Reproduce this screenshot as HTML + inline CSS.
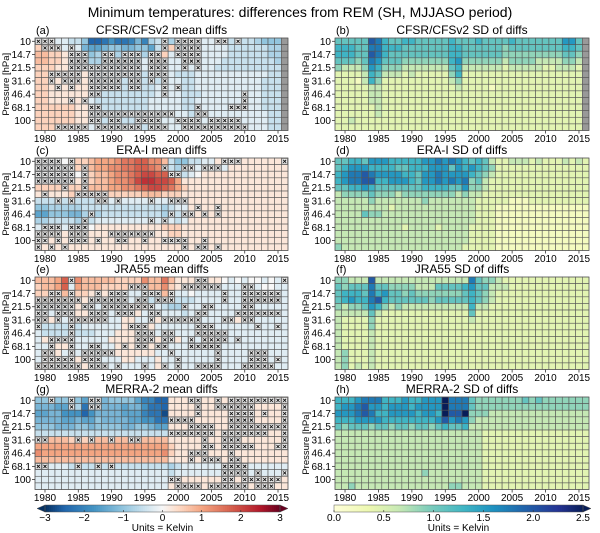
<!DOCTYPE html>
<html><head><meta charset="utf-8"><style>
html,body{margin:0;padding:0;background:#fff;}
svg{display:block;font-family:"Liberation Sans",sans-serif;}
</style></head><body>
<svg id="fig" width="600" height="533" viewBox="0 0 600 533" xmlns="http://www.w3.org/2000/svg">
<text x="300" y="17" text-anchor="middle" font-size="14">Minimum temperatures: differences from REM (SH, MJJASO period)</text>
</svg>
<script>
// ---- data ----
const years = Array.from({length:38},(_,i)=>1979+i);
const levelLabels = ["10","","14.7","","21.5","","31.6","","46.4","","68.1","","100",""];
const xTickYears = [1980,1985,1990,1995,2000,2005,2010,2015];
const meanTicks = [-3,-2,-1,0,1,2,3];
const sdTicks = ["0.0","0.5","1.0","1.5","2.0","2.5"];
// mean codes: a..l = -0.25..-3, A..L = +0.25..+3, 0 = 0, _ = missing
const meanA = [
"aaaaabbdjjigiihehcbacbaaaaaabbbbbcddd_",
"BBBAaaaeffeddeeddfbaBbbaaaaaabbbbbbccd_",
"CCBBAabcdcdccccdcbaBaaaaaaaaabbbbbbcc_",
"CCBBAaabcccbbcccaaAaaaaaaaaabbbbbbbbc_",
"BBBAAaabbbbbbbbbaaaaaaaaaaabbbbbbbbb_",
"BBAAAAAAabbbbbbbbbaaabbbaaaaaaaaaaabb_",
"BBAAAAAAabbbbbbbbbbaaabbaaaaaaaaaabbb_",
"BBAAAAAAaabbbbbbbbaaaabbaaaaaaaaaabbb_",
"BBAAAAAAabbbbbbbbbaaaabbbaaaaaaaaabbb_",
"BBAAAAAAabbbbbbbbaaaaabbaaaaaaaaaabbb_",
"BBBBBBAAabbbbbbbbaaaaabbaaaaaaaaaabbb_",
"BBBBBBAAabbbbbbbbaaaaaabaaaaaaaaaaabb_",
"BBBBBBAAaabbbbbbbaaaaaaaaaaaaaaaaaabb_",
"BBBBBBAAaabbbbbbbaaaaaaaaaaaaaaaaaabb_"];
const meanC = [
"00a00ABBCDDDEFFGGEECbddbbaaAAAAAAAAAAA",
"0a00a0BBCDDEEFFGGFECbcaaaaaaaAAAAAAAAA",
"aaaa0b0BBCCDEEFGHHGGFcba0AAAAAAAAAAAAA",
"aaaaa0ABBCCDEEFHIIHHGDAAAAAAAAAAAAAAAA",
"BBBBBBBBCCCDDEEFGHHGFDBAAAAAAAAAAAAAAA",
"AAAAABAABBBBBBBBCCCBBBAAAAAAAAAAAAAAAA",
"bbbbbbbbbaaaaaaaaaaacbaAAAAAAAAAAAAAAA",
"ddcccccbbbbbbbbbbbbcbaaAAAAAAAAAAAAAAA",
"ffdddeecccbbbbbbbbbccbaAAAAAAAAAAAAAAA",
"ccbbbbcbbaaaaaaaaaaaabaAAAAAAAAAAAAAAA",
"aaaaaaaa0AAAAAAAAAABBBAAAAAAAAAAAAAAAA",
"AAAAAAAAAAAAAAAAAAAABBAAAAAAAAAAAAAAAA",
"AAAAAAAAAAAAAAAAAAAAAAAAAAAAAAAAAAAAAA",
"AAAAAAAAAAAAAAAAAAAAAAAAAAAAAAAAAAAAAA"];
const meanE = [
"CCCDGaECCCCCBBBBECCFCAAA0AAA0a0a00a0aa",
"BCCDGaDCCCBBBBBBDCCEBAAAAAa0aaa0aa00aa",
"BBBBCaBBAAAA0aaaaaaCBaa0aaaaaaaaaaaaaa",
"AAAAAAAAaa0aaaaabbbaabbbaaaaaaaaaaaaaa",
"aaaaaaAAaa0aaaAAAaabccbaaaaaaaaaaaaaaa",
"aaaaaaAAaaaaaaaAaaaaaabaaaaaaaaaaaaaaa",
"aAAaaAAAAAaaaAAaaaAaaaaAaaaaaaAaaaaaaa",
"abbbbbbaaaaaaAAaAAaaaaaaaaaaaaaaaaaaaa",
"abbbbbbbbaaaAAAAaAaaaaaaAaaaaaaaaaaaaa",
"aAAaaaaaaaaAAAAAAAAaaAaaaAAaaaaaaaaaaa",
"aaaAAaaaaaaaAAAaAAaaaaaaaaaaaaaaaaaaaa",
"aAAAaaaaaaaAAAAAAAaaaaaaaaaaaaaaaaaaaa",
"aAAAaaAAAaaaaAAaaaAaaaaaaaaaaaaaaaaaaa",
"AAAaaaAAaaaaaaaaaaAaaaaaaaaaaaaaaaaaaa"];
const meanG = [
"ddcddfdfceeddddfhhjjAAAAAAAAAAAAAAAAAA",
"eeeffgcigeeeefeegiijAAAAAAAAAAAAAAAAAA",
"ffeegggjgeeeefffhiikAAAAAAAAAAAAAAAAAA",
"eeeeffeffdeeeeffggiiAAAAAAAAAAAAAAAAAA",
"dddeeeddeddddeeddeffAAAAAAAAAAAAAAAAAA",
"bbbbbbbbbbbbbbbbbbbbAAAAAAAAAAAAAAAAAA",
"BBCCCBCBCCCCCCBCCCCCAAAAAAAAAAAAAAAAAA",
"DDDDDDDDDDDDDDDDDDDDBAAAAAAAAAAAAAAAAA",
"EDDDDDDDDDDDDDDDDDDEBAAAAAAAAAAAAAAAAA",
"CCCCCCCCCCCCCCCCCCCCAAAAAAAAAAAAAAAAAA",
"bbaaabbbbbbbbbbbbbbbcbaaaaaaaaaaaaaaaa",
"aaaaaaaaaaaaaaaaaaaabaaaaaaaaaaaaaaaaa",
"aaaaaaaaaaaaaaaaaaaaAAAAAAAAAAAAAAAAAA",
"aaaaaaaaaaaaaaaaaaaaAAAAAAAAAAAAAAAAAA"];
// SD codes: digit d = d*0.22 K, A = 2.5, _ = missing
const sdB = [
"5555598655665555565556555565555555775_",
"6665588666555555566555555455555555665_",
"6665598655555555566555555444444444554_",
"5554587555444444467444444344443333443_",
"4333476444333333356333333233333223332_",
"2222365333232222246222222222222222222_",
"2221364222222222234222222222222222222_",
"2222233222222222223222212222222222222_",
"2222233222222222222222222222222222222_",
"2222233222222222222222222222222222222_",
"2222223222222222222222222222222222222_",
"2222223222222222222222222222222222222_",
"2232222222222222222222222222222222222_",
"2222222222222222222222222222222222222_"];
const sdD = [
"55665777666667787876565322333232223232",
"56777666655666777576765422222222222222",
"67889877776657787777654322222222222222",
"67889966777657787878453222222222222222",
"55667655555556666557443222222222222222",
"34444544434444444434332222222222222222",
"33333433333334333333322222111222222222",
"33333333233333333333322211111111111111",
"33335443333333333333322211111111111111",
"33333333333333333333322211111111111111",
"33333333332333323333222211111111111111",
"33333333333333333333222211111111111111",
"33333333333333333333222211111111111111",
"43333333333333333332222211111111111111"];
const sdF = [
"44333933333333333333854432222222222222",
"54555855444433355556755333222222222222",
"56665867554544444445654322222222222222",
"56766896555555455555654322222222222222",
"43445764343333333333633222222222222222",
"33333532222222222222522222222222222222",
"32222422222222222222322222222222222222",
"32222422222222222222222222222222222222",
"32222322222222222222222222222222222222",
"32222322222222222222222222222222222222",
"32222322222222222222222222222222222222",
"34222322222222222222222222222222222222",
"34222322222222222222222222222222222222",
"34232322222222222222222222222222222222"];
const sdH = [
"6667888666766777A888544444445454444444",
"6778977677767777A888544444444444444444",
"7778986677776776A99A444333333333333333",
"66677776666666679787433333333333333333",
"54555455455455456556333333333333333333",
"33333333333333333333332222222222222222",
"33333333333333333333332222222222222222",
"33333333333333333333332222222222222222",
"33333333333333333333332222222222222222",
"33333333333333333333332222222222222222",
"33333333333333333333332222222222222222",
"33333333333334333333332222222222222222",
"33333333333333333333332222222222222222",
"33433333333333333443332222222222222222"];
// significance crosses (column indices per row)
const crossA = [[0,1,2,19,21,22,23,24,27,28,30],[1,2,3,5,19,21,22,23,24],[5,6,7,10,11,13,14,15,17,18,21,22,23,24],[5,6,7,10,11,12,13,14,15,17,18,19,22,23,24],[5,6,7,8,9,10,11,12,13,14,15,17,18,19,22,24],[2,3,4,5,6,8,9,10,11,12,13,14,15,17,18,19],[2,4,5,6,8,9,10,11,12,14,15,17,19],[3,5,8,9,10,11,12,14,15,19,21],[8,9,19,31],[5,7,31],[8,9,24,29,30,31],[8,9,10,11,12,13,14,15,16,17,18,19,20,24,25],[8,9,11,12,15,16,17,18,21,22,23,24,26,27,28,29,30],[3,4,5,6,7,9,10,11,12,13,14,15,17,18,19,22,23,24,25,26,27,28,29,30,31]];
const crossC = [[0,1,2,3,5,28,29,30,37],[0,1,2,3,4,5,7,19,22,23,25,26,27],[0,1,2,3,4,5,7,20,21],[0,1,2,3,4,5,7],[4,7],[1,6,7,8,9,10],[3,5,9,10,12,17,20,21,22],[24,27],[8,20,22,23,25,27],[7,17,19],[1,2,3,5,6,7],[0,1,2,3,5,6,7,11,12,13,14,15,16,17],[0,1,3,5,6,7,9,12,13,16,19,20,21,22,25],[0,2,4,22,24,25,27]];
const crossE = [[5,24,25,37],[14,15,16,22,23,24,25,26,27,31,32],[2,3,5,9,11,12,13,16,17,18,20,28,31,32,33,34,35,36],[0,1,2,3,4,5,6,8,9,10,11,12,13,15,16,18,19,20,28,31,32,33,34,35,36],[0,1,2,3,4,5,7,8,10,11,12,13,14,15,16,17,22,25,26,31,32],[0,1,3,4,5,8,9,10,12,13,14,17,18,24,25,30,31,32,33,34,35,36],[0,1,3,5,6,7,8,9,10,17,19,20,21,22,23,24,28,29,31,32],[0,5,14,15,16,24,25,26,33,36],[5,15,16,17,19,20,24,25,26,27,28],[2,3,4,5,15,16,17,19,20,23,25,26,27,28,30],[2,5,8,9,13,15,16,18,19,23,24,25,26,27],[1,2,5,7,8,9,10,11,20,27,32,33,34],[1,2,3,4,5,7,8,9,21,27,32,33,34,36],[0,1,2,3,4,5,6,8,9,10,12,16,19,21,24,25,26,27,31,32,33,34,35]];
const crossG = [[2,5,8,9,23,24,27,29,30,31,32,33,34,35,36,37],[5,8,9,24,27,28,29,30,31,32,37],[24,29,30,31,32,34,37],[20,21,22,23,29,30,31,32,37],[23,24,25,26,29,30,31,32,33,34,35,36,37],[20,21,22,23,24,25,26,28,29,30,31,32,33,34,37],[0,1,6,8,11,14,15,25,28,29,30,37],[25,26,28,29,30,31,32,36,37],[23,24,25,29],[23,25,26,27,29,30],[0,1,6,9,11,28,29,30,31],[28,29,30,31,33,37],[20,21,28,29,31,32,33,34,35,36],[21,22,23,24,26,27,28,29,30,31,33,34,35]];

// ---- helpers ----
const NS="http://www.w3.org/2000/svg";
const svg=document.getElementById('fig');
function mk(tag,attrs,parent){const e=document.createElementNS(NS,tag);for(const k in attrs)e.setAttribute(k,attrs[k]);(parent||svg).appendChild(e);return e;}
function hex(c){return [parseInt(c.slice(1,3),16),parseInt(c.slice(3,5),16),parseInt(c.slice(5,7),16)];}
function interp(stops,v){
  if(v<=stops[0][0])return stops[0][1];
  for(let i=1;i<stops.length;i++){if(v<=stops[i][0]){const [v0,c0]=stops[i-1],[v1,c1]=stops[i];const t=(v-v0)/(v1-v0);const a=hex(c0),b=hex(c1);return 'rgb('+a.map((x,j)=>Math.round(x+(b[j]-x)*t)).join(',')+')';}}
  return stops[stops.length-1][1];}
const rdbu=[[-3,'#053061'],[-2.5,'#2166ac'],[-1.75,'#4393c3'],[-1,'#92c5de'],[-0.4,'#d1e5f0'],[0,'#f7f7f7'],[0.4,'#fddbc7'],[1,'#f4a582'],[1.75,'#d6604d'],[2.5,'#b2182b'],[3,'#67001f']];
const ylgnbu=[[0,'#ffffd9'],[0.35,'#edf8b1'],[0.65,'#c7e9b4'],[0.95,'#7fcdbb'],[1.3,'#41b6c4'],[1.6,'#1d91c0'],[1.95,'#225ea8'],[2.25,'#253494'],[2.5,'#081d58']];
function meanVal(ch){if(ch==='_')return null;if(ch==='0')return 0;const lo='abcdefghijkl',up='ABCDEFGHIJKL';let i=lo.indexOf(ch);if(i>=0)return -(i+1)*0.25;i=up.indexOf(ch);if(i>=0)return (i+1)*0.25;return 0;}
function sdVal(ch){if(ch==='_')return null;if(ch==='A')return 2.5;return parseInt(ch,10)*0.22;}

const NC=38,NR=14;
function panel(o){
  const g=mk('g',{});
  
  
  const W=o.w, H=92.5, cw=W/NC, rh=H/NR;
  const xs=c=>o.x+c*cw, ys=r=>o.y+r*rh;
  for(let r=0;r<NR;r++){
    const row=(o.data[r]||'').replace(/_/g,'');
    for(let c=0;c<NC;c++){
      const ch=(o.lastMissing&&c===NC-1)?'_':(row[c]!==undefined?row[c]:row[row.length-1]);
      const v=o.kind==='mean'?meanVal(ch):sdVal(ch);
      const fill=v===null?'#999999':(o.kind==='mean'?interp(rdbu,v):interp(ylgnbu,v));
      const cell=mk('rect',{x:xs(c),y:ys(r),width:cw,height:rh,fill:fill,stroke:'#555',"stroke-width":0.6},g);
      
      
    }
  }
  if(o.cross){
    o.cross.forEach((cols,r)=>cols.forEach(c=>{
      if(c>=NC)return;
      const cx=xs(c)+cw/2, cy=ys(r)+rh/2, s=2.3;
      const m=mk('g',{},g);
      
      
      mk('rect',{x:cx-s-0.4,y:cy-s-0.4,width:2*s+0.8,height:2*s+0.8,fill:'#eeeeee',stroke:'#666',"stroke-width":0.4},m);
      mk('path',{d:`M${cx-s+0.8},${cy-s+0.8}L${cx+s-0.8},${cy+s-0.8}M${cx-s+0.8},${cy+s-0.8}L${cx+s-0.8},${cy-s+0.8}`,stroke:'#111',"stroke-width":0.9},m);
    }));
  }
  mk('rect',{x:o.x,y:o.y,width:W,height:H,fill:'none',stroke:'#555',"stroke-width":0.6},g);
  levelLabels.forEach((l,r)=>{if(!l)return;const y=ys(r)+rh/2;
    mk('line',{x1:o.x-3,x2:o.x,y1:y,y2:y,stroke:'#333',"stroke-width":0.8},g);
    const t=mk('text',{x:o.x-4,y:y+3.5,"text-anchor":"end","font-size":10},g);t.textContent=l;
    });
  xTickYears.forEach(yr=>{const x=xs(yr-1979)+cw/2;
    mk('line',{x1:x,x2:x,y1:o.y+H,y2:o.y+H+3,stroke:'#333',"stroke-width":0.8},g);
    const t=mk('text',{x:x,y:o.y+H+11.5,"text-anchor":"middle","font-size":10},g);t.textContent=yr;
    });
  const yt=mk('text',{x:0,y:0,"text-anchor":"middle","font-size":9.5,transform:`translate(${o.x-26},${o.y+H/2}) rotate(-90)`},g);
  yt.textContent='Pressure [hPa]';
  
  const tt=mk('text',{x:o.x+W/2,y:o.y-4,"text-anchor":"middle","font-size":12},g);tt.textContent=o.title;
  
  const lt=mk('text',{x:o.x+1,y:o.y-4,"font-size":11},g);lt.textContent=o.label;
  
}
const LX=35, RX=335, LW=253, RW=254;
const tops=[38,158,277,397];
panel({name:'panel-a-cfsr-mean',kind:'mean',x:LX,y:tops[0],w:LW,data:meanA,cross:crossA,lastMissing:true,title:'CFSR/CFSv2 mean diffs',label:'(a)'});
panel({name:'panel-b-cfsr-sd',kind:'sd',x:RX,y:tops[0],w:RW,data:sdB,lastMissing:true,title:'CFSR/CFSv2 SD of diffs',label:'(b)'});
panel({name:'panel-c-erai-mean',kind:'mean',x:LX,y:tops[1],w:LW,data:meanC,cross:crossC,title:'ERA-I mean diffs',label:'(c)'});
panel({name:'panel-d-erai-sd',kind:'sd',x:RX,y:tops[1],w:RW,data:sdD,title:'ERA-I SD of diffs',label:'(d)'});
panel({name:'panel-e-jra55-mean',kind:'mean',x:LX,y:tops[2],w:LW,data:meanE,cross:crossE,title:'JRA55 mean diffs',label:'(e)'});
panel({name:'panel-f-jra55-sd',kind:'sd',x:RX,y:tops[2],w:RW,data:sdF,title:'JRA55 SD of diffs',label:'(f)'});
panel({name:'panel-g-merra2-mean',kind:'mean',x:LX,y:tops[3],w:LW,data:meanG,cross:crossG,title:'MERRA-2 mean diffs',label:'(g)'});
panel({name:'panel-h-merra2-sd',kind:'sd',x:RX,y:tops[3],w:RW,data:sdH,title:'MERRA-2 SD of diffs',label:'(h)'});

function colorbar(o){
  const g=mk('g',{});
  
  
  const y0=505,h=7,n=120;
  for(let i=0;i<n;i++){const v=o.vmin+(o.vmax-o.vmin)*(i+0.5)/n;
    mk('rect',{x:o.x0+(o.x1-o.x0)*i/n,y:y0,width:(o.x1-o.x0)/n+0.4,height:h,fill:interp(o.stops,v)},g);}
  if(o.leftArrow)mk('polygon',{points:`${o.x0},${y0} ${o.x0-8},${y0+h/2} ${o.x0},${y0+h}`,fill:interp(o.stops,o.vmin-1),stroke:'#555',"stroke-width":0.5},g);
  mk('polygon',{points:`${o.x1},${y0} ${o.x1+8},${y0+h/2} ${o.x1},${y0+h}`,fill:interp(o.stops,o.vmax+1),stroke:'#555',"stroke-width":0.5},g);
  mk('rect',{x:o.x0,y:y0,width:o.x1-o.x0,height:h,fill:'none',stroke:'#555',"stroke-width":0.5},g);
  o.ticks.forEach(t=>{const v=parseFloat(t);const x=o.x0+(v-o.vmin)/(o.vmax-o.vmin)*(o.x1-o.x0);
    mk('line',{x1:x,x2:x,y1:y0+h-2,y2:y0+h,stroke:'#333',"stroke-width":0.6},g);
    const tx=mk('text',{x:x,y:521,"text-anchor":"middle","font-size":10},g);tx.textContent=String(t).replace('-','\u2212');
    });
  const u=mk('text',{x:(o.x0+o.x1)/2,y:531,"text-anchor":"middle","font-size":10},g);u.textContent='Units = Kelvin';
  
}
colorbar({name:'mean-colorbar',x0:45,x1:280,vmin:-3,vmax:3,stops:rdbu,ticks:meanTicks,leftArrow:true});
colorbar({name:'sd-colorbar',x0:334,x1:583,vmin:0,vmax:2.5,stops:ylgnbu,ticks:sdTicks,leftArrow:false});
</script>
</body></html>
